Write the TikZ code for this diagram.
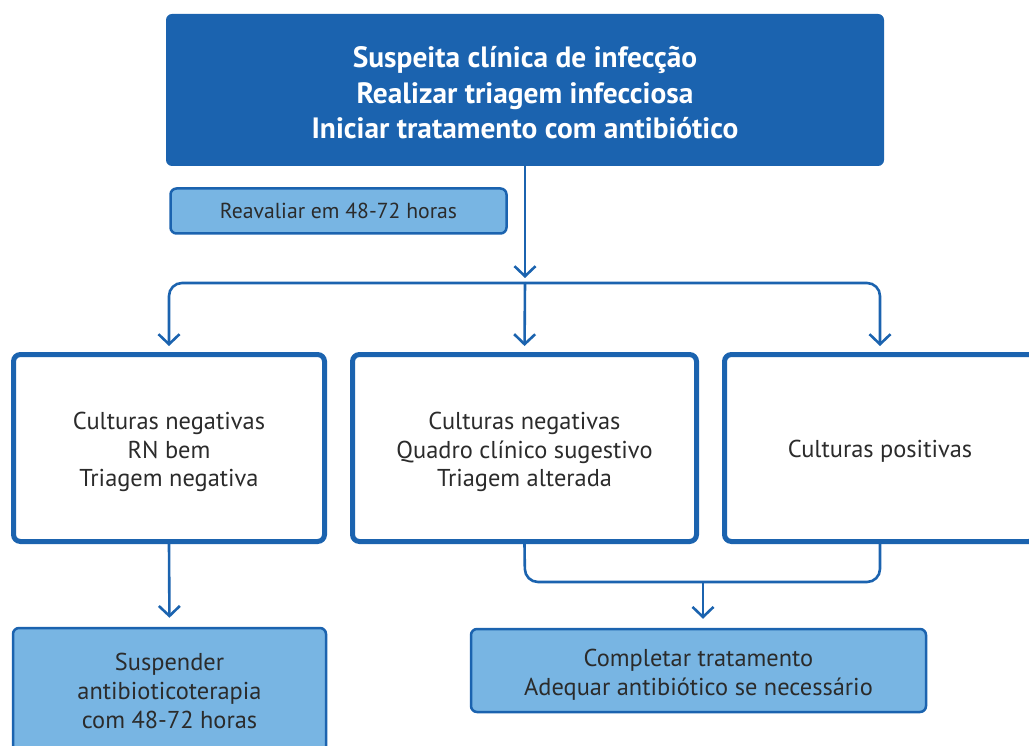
\documentclass[tikz,border=0pt]{standalone}
\usepackage{fontspec}
\setmainfont{PT Sans}
\usetikzlibrary{arrows.meta}
\definecolor{dblue}{HTML}{1B63AF}
\definecolor{lblue}{HTML}{78B5E3}
\definecolor{tgray}{HTML}{2B2B2B}
\tikzset{
  topbox/.style={fill=dblue, draw=none, rounded corners=6pt, inner sep=0pt},
  toptext/.style={inner sep=0pt, align=center, text=white, text depth=0pt,
     font=\bfseries\fontsize{29.4}{35.5}\selectfont},
  midbox/.style={draw=dblue, line width=5pt, fill=white, rounded corners=7pt, inner sep=0pt},
  boxtext/.style={inner sep=0pt, align=center, text=tgray, text depth=0pt,
     font=\fontsize{24.4}{28.7}\selectfont},
  lightbox/.style={draw=dblue, line width=2.5pt, fill=lblue, rounded corners=6pt, inner sep=0pt, align=center, text=tgray, text depth=0pt,
     font=\fontsize{24.4}{28.7}\selectfont},
  conn/.style={draw=dblue, line width=2.6pt},
  arr/.style={conn, -{Straight Barb[length=10pt,width=21pt,line width=2.6pt]}},
}
\begin{document}
\begin{tikzpicture}[x=1pt,y=-1pt]
\useasboundingbox (0,0) rectangle (1029,746);
\clip (0,0) rectangle (1029,746);
\node[topbox, minimum width=718pt, minimum height=152pt,
  label={[toptext, yshift=-2.5pt]center:{Suspeita clínica de infecção\\Realizar triagem infecciosa\\Iniciar tratamento com antibiótico}}] (top) at (525,90) {};
\node[lightbox, minimum width=336pt, minimum height=45pt, font=\fontsize{21.7}{26}\selectfont] (reav) at (338.5,211)
  {Reavaliar em 48-72 horas};
\node[midbox, minimum width=311pt, minimum height=187pt,
  label={[boxtext, yshift=-1.5pt]center:{Culturas negativas\\RN bem\\Triagem negativa}}] (m1) at (169,448) {};
\node[midbox, minimum width=344pt, minimum height=187pt,
  label={[boxtext, yshift=-1.5pt]center:{Culturas negativas\\Quadro clínico sugestivo\\Triagem alterada}}] (m2) at (524.5,448) {};
\node[midbox, minimum width=311pt, minimum height=187pt,
  label={[boxtext, yshift=-1pt]center:{Culturas positivas}}] (m3) at (880,448) {};
\node[lightbox, minimum width=313pt, minimum height=126pt] (b1) at (169.5,691)
  {Suspender\\antibioticoterapia\\com 48-72 horas};
\node[lightbox, minimum width=455pt, minimum height=83pt,
  label={[boxtext, yshift=-2pt]center:{Completar tratamento\\Adequar antibiótico se necessário}}] (b2) at (698.5,670.5) {};
\coordinate (hub) at (525,283);
\coordinate (jl) at (525,582);
\coordinate (jr) at (880,582);
\coordinate (jm) at (703,582);
\draw[arr, shorten >=5pt] (top.south) -- (hub);
\draw[arr, shorten >=6pt] (hub) -- (m2.north);
\draw[arr, shorten >=6pt, rounded corners=13pt] (hub) -| (m1.north);
\draw[arr, shorten >=6pt, rounded corners=13pt] (hub) -| (m3.north);
\draw[arr, shorten >=9pt] (m1.south) -- (b1.north);
\draw[conn, rounded corners=13pt] (m2.south) -- (jl) -- (jr) -- (m3.south);
\draw[arr, shorten >=9pt] (jm) -- (jm |- b2.north);
\end{tikzpicture}
\end{document}
